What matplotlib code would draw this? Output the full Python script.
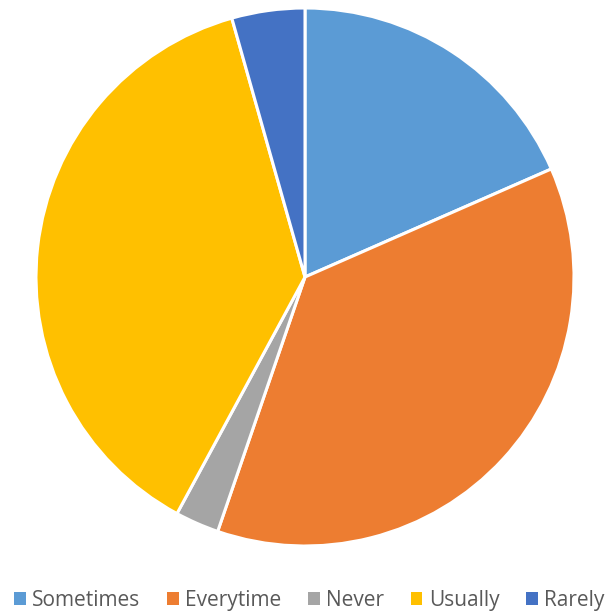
import matplotlib
matplotlib.use("Agg")
from matplotlib import pyplot as plt
from matplotlib.patches import Patch

labels = ['Sometimes', 'Everytime', 'Never', 'Usually', 'Rarely']
counts = [21, 42, 3, 43, 5]
colors = ['#5B9BD5', '#ED7D31', '#A5A5A5', '#FFC000', '#4472C4']

plt.rcParams['font.family'] = ['Open Sans', 'DejaVu Sans']

fig = plt.figure(figsize=(6.10, 6.15), dpi=100)
ax = fig.add_axes([36 / 610, 69 / 615, 538 / 610, 538 / 615])
ax.pie(counts, colors=colors, startangle=90, counterclock=False, radius=1,
       wedgeprops={'edgecolor': 'white', 'linewidth': 2.2})
ax.set_xlim(-1, 1)
ax.set_ylim(-1, 1)
ax.set_aspect('auto')
ax.axis('off')

handles = [Patch(facecolor=c, edgecolor='none') for c in colors]
fig.legend(handles, labels, loc='lower center', bbox_to_anchor=(0.507, -0.024), ncol=5,
           frameon=False, fontsize=15, handlelength=0.55, handleheight=0.55,
           handletextpad=0.3, columnspacing=1.3, labelcolor='#595959')

plt.savefig('out.png', dpi=100)
